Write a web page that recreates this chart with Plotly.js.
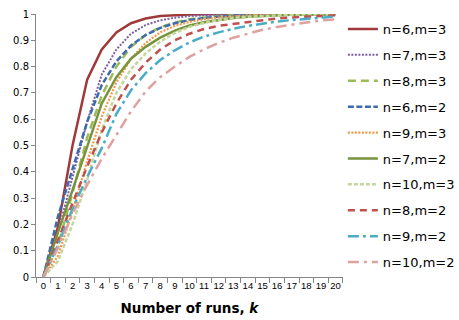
<!DOCTYPE html>
<html>
<head>
<meta charset="utf-8">
<script src="https://cdn.plot.ly/plotly-3.0.1.min.js"></script>
<style>html,body{margin:0;padding:0;background:#fff;}#chart{width:459px;height:320px;}</style>
</head>
<body>
<div id="chart"></div>
<script>
const runs = ['0','1','2','3','4','5','6','7','8','9','10','11','12','13','14','15','16','17','18','19','20'];
const seriesNames = ['n=6,m=3','n=7,m=3','n=8,m=3','n=6,m=2','n=9,m=3','n=7,m=2','n=10,m=3','n=8,m=2','n=9,m=2','n=10,m=2'];
const n6m3  = [0,0.19,0.50,0.75,0.865,0.93,0.965,0.983,0.992,0.996,0.998,0.999,1,1,1,1,1,1,1,1,1];
const n7m3  = [0,0.17,0.38,0.59,0.77,0.865,0.925,0.958,0.976,0.986,0.992,0.996,0.998,0.999,1,1,1,1,1,1,1];
const n8m3  = [0,0.12,0.32,0.53,0.69,0.80,0.875,0.92,0.95,0.968,0.98,0.987,0.992,0.995,0.997,0.998,0.999,0.999,1,1,1];
const n6m2  = [0,0.23,0.41,0.59,0.73,0.82,0.88,0.92,0.947,0.965,0.977,0.985,0.99,0.994,0.996,0.997,0.998,0.999,1,1,1];
const n9m3  = [0,0.08,0.25,0.44,0.61,0.74,0.83,0.89,0.93,0.955,0.97,0.98,0.987,0.992,0.995,0.997,0.998,0.999,0.999,1,1];
const n7m2  = [0,0.17,0.33,0.495,0.66,0.76,0.83,0.875,0.91,0.937,0.956,0.969,0.978,0.985,0.99,0.993,0.995,0.997,0.998,0.999,0.999];
const n10m3 = [0,0.06,0.20,0.37,0.56,0.70,0.79,0.85,0.895,0.928,0.951,0.966,0.977,0.985,0.99,0.993,0.995,0.997,0.998,0.999,0.999];
const n8m2  = [0,0.14,0.28,0.42,0.55,0.66,0.75,0.815,0.865,0.9,0.925,0.943,0.955,0.962,0.97,0.977,0.983,0.987,0.99,0.993,0.995];
const n9m2  = [0,0.12,0.26,0.38,0.49,0.62,0.71,0.775,0.825,0.862,0.892,0.914,0.93,0.944,0.955,0.964,0.971,0.977,0.982,0.986,0.99];
const n10m2 = [0,0.11,0.24,0.35,0.45,0.54,0.63,0.705,0.76,0.80,0.837,0.866,0.89,0.91,0.926,0.94,0.951,0.96,0.968,0.975,0.98];
const yTickVals = [0,0.1,0.2,0.3,0.4,0.5,0.6,0.7,0.8,0.9,1];
const yTickText = ['0','0.1','0.2','0.3','0.4','0.5','0.6','0.7','0.8','0.9','1'];

const values = [n6m3,n7m3,n8m3,n6m2,n9m3,n7m2,n10m3,n8m2,n9m2,n10m2];
const styles = [
  {color:'#A0393A', dash:'solid', width:2.5},
  {color:'#7B5DA4', dash:'2px,1.5px', width:2},
  {color:'#9BBB59', dash:'8px,5px', width:2.5},
  {color:'#3E6BAE', dash:'6px,2.5px', width:2.5},
  {color:'#F79646', dash:'2px,1.5px', width:2.2},
  {color:'#77933C', dash:'solid', width:2.5},
  {color:'#C3D69B', dash:'4px,2px', width:2.5},
  {color:'#C0504D', dash:'7px,5px', width:2.5},
  {color:'#4BACC6', dash:'11px,4px,3px,4px', width:2.5},
  {color:'#DDA2A0', dash:'11px,5px,3px,5px', width:2.5}
];

const traces = values.map((v,i)=>({
  type:'scatter', mode:'lines', x:runs, y:v, name:seriesNames[i],
  legendgroup:'g'+i,
  line:{color:styles[i].color, dash:styles[i].dash, width:styles[i].width}
}));

const layout = {
  width:459, height:320,
  margin:{l:36, r:114, t:14, b:43},
  paper_bgcolor:'#fff', plot_bgcolor:'#fff',
  showlegend:true,
  legend:{xref:'container', yref:'paper', x:0.747, xanchor:'left', y:1.0, yanchor:'top',
          maxheight:1,
          font:{family:'DejaVu Sans', size:13, color:'#000'},
          tracegroupgap:6, bgcolor:'rgba(0,0,0,0)', traceorder:'grouped'},
  xaxis:{type:'category', range:[-0.5,20.5], tickson:'boundaries', ticks:'outside', ticklen:5, tickcolor:'#868686',
         tickangle:0, automargin:false,
         showline:true, linecolor:'#868686', linewidth:1, showgrid:false, zeroline:false,
         tickfont:{family:'Liberation Sans', size:9.5, color:'#000'},
         title:{text:'<b>Number of runs, <i>k</i></b>', font:{family:'DejaVu Sans', size:13.5, color:'#000'}, standoff:13}},
  yaxis:{range:[0,1], tickvals:yTickVals, ticktext:yTickText, ticks:'outside', ticklen:4, tickcolor:'#868686',
         automargin:false,
         showline:true, linecolor:'#868686', linewidth:1, showgrid:false, zeroline:false,
         tickfont:{family:'DejaVu Sans', size:10, color:'#000'}}
};

Plotly.newPlot('chart', traces, layout, {displayModeBar:false, staticPlot:true});
</script>
</body>
</html>
